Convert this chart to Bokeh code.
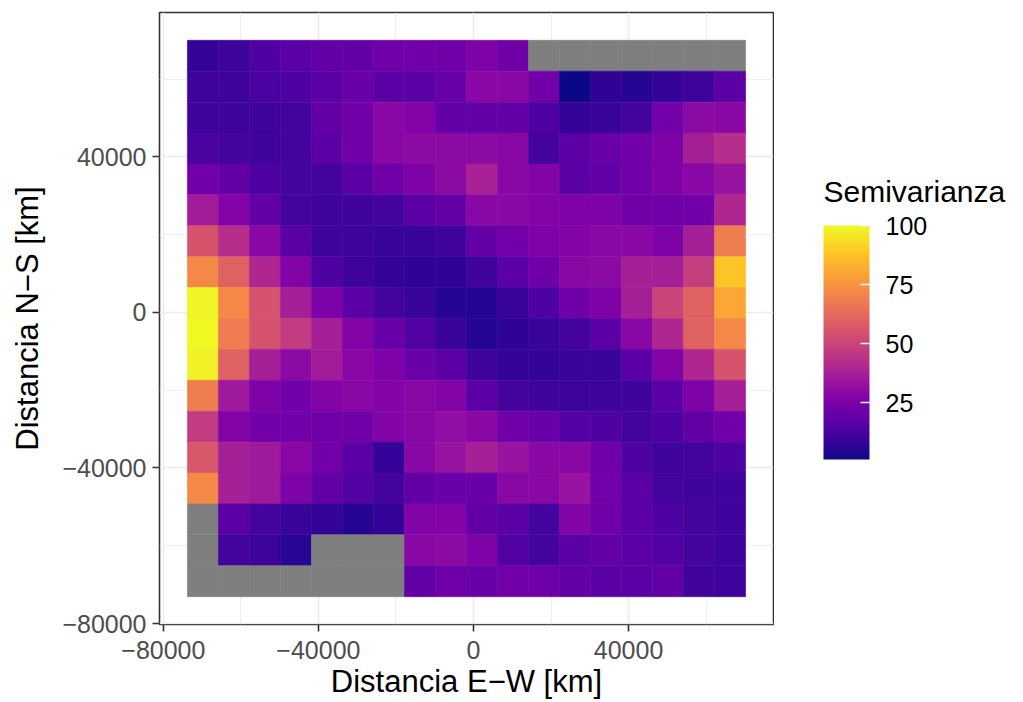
import numpy as np
from bokeh.plotting import figure
from bokeh.layouts import row
from bokeh.models import (ColumnDataSource, LinearColorMapper, ColorBar, FixedTicker,
                          Range1d, Label)
from bokeh.palettes import Plasma256
from bokeh.embed import file_html
from bokeh.resources import INLINE

nan = float("nan")

# ---- data -------------------------------------------------------------
# E-W lag centres (km), west to east
x_lags = [-69800, -61800, -53800, -45800, -37800, -29800, -21800, -13800, -5800,
          2200, 10200, 18200, 26200, 34200, 42200, 50200, 58200, 66200]
# N-S lag centres (km), north to south (one per row below)
y_lags = [66025, 58075, 50125, 42175, 34225, 26275, 18325, 10375, 2425,
          -5525, -13475, -21425, -29375, -37325, -45275, -53225, -61175, -69125]

# semivariance, one list per N-S lag (north -> south), west -> east
row_00 = [8, 10, 14, 17, 19, 19, 22, 23, 22, 26, 22, nan, nan, nan, nan, nan, nan, nan]
row_01 = [10, 10, 13, 14, 17, 21, 17, 17, 20, 29, 29, 23, 1, 7, 5, 8, 10, 17]
row_02 = [10, 10, 11, 12, 19, 23, 29, 27, 19, 19, 19, 14, 8, 9, 12, 23, 30, 29]
row_03 = [13, 12, 11, 12, 17, 23, 29, 30, 30, 30, 29, 12, 17, 21, 23, 26, 37, 42]
row_04 = [23, 19, 14, 12, 12, 17, 22, 26, 30, 38, 29, 27, 17, 19, 23, 26, 29, 33]
row_05 = [36, 27, 19, 12, 11, 11, 12, 17, 19, 29, 29, 27, 26, 26, 22, 22, 23, 40]
row_06 = [55, 42, 29, 17, 11, 10, 9, 9, 11, 19, 23, 26, 27, 29, 29, 26, 37, 69]
row_07 = [72, 60, 40, 27, 14, 10, 8, 7, 7, 11, 17, 22, 29, 30, 37, 37, 48, 88]
row_08 = [99, 72, 55, 37, 26, 17, 12, 9, 5, 5, 9, 14, 22, 26, 37, 50, 60, 80]
row_09 = [100, 68, 55, 47, 37, 27, 21, 15, 9, 5, 7, 9, 12, 17, 29, 40, 60, 72]
row_10 = [98, 60, 37, 30, 36, 29, 26, 21, 17, 10, 8, 8, 9, 9, 17, 27, 40, 55]
row_11 = [69, 35, 26, 23, 27, 29, 27, 29, 27, 17, 12, 11, 10, 10, 11, 17, 26, 37]
row_12 = [47, 27, 23, 23, 22, 22, 27, 29, 31, 29, 23, 21, 15, 14, 12, 14, 19, 23]
row_13 = [56, 37, 35, 29, 23, 17, 8, 29, 33, 37, 33, 29, 29, 22, 14, 11, 12, 14]
row_14 = [72, 37, 35, 26, 19, 15, 12, 19, 21, 21, 29, 29, 33, 23, 17, 12, 11, 11]
row_15 = [nan, 17, 12, 9, 8, 5, 8, 27, 27, 19, 17, 12, 27, 22, 17, 14, 12, 11]
row_16 = [nan, 12, 10, 6, nan, nan, nan, 29, 30, 26, 15, 12, 17, 19, 17, 15, 12, 10]
row_17 = [nan, nan, nan, nan, nan, nan, nan, 19, 22, 21, 23, 22, 19, 17, 17, 19, 11, 10]

rows = [row_00, row_01, row_02, row_03, row_04, row_05, row_06, row_07, row_08,
        row_09, row_10, row_11, row_12, row_13, row_14, row_15, row_16, row_17]

axis_ticks = [-80000, -40000, 0, 40000]
axis_minor = [-60000, -20000, 20000, 60000]
axis_tick_labels = ["\u221280000", "\u221240000", "0", "40000"]
legend_ticks = [25, 50, 75, 100]

x_title = "Distancia E\u2212W [km]"
y_title = "Distancia N\u2212S [km]"
legend_title = "Semivarianza"

# ---- layout / style ---------------------------------------------------
cell_w = 8000
cell_h = 7950
FONT = "Liberation Sans"
TOTAL_W, TOTAL_H = 1023, 702
MAIN_W = 774

xs, ys, vs = [], [], []
for yv, r in zip(y_lags, rows):
    for xv, v in zip(x_lags, r):
        xs.append(xv)
        ys.append(yv)
        vs.append(v)
vals = np.array(vs, dtype=float)
src = ColumnDataSource(data=dict(x=np.array(xs, dtype=float), y=np.array(ys, dtype=float), v=vals))

vmin = float(np.nanmin(vals))
vmax = float(np.nanmax(vals))
mapper = LinearColorMapper(palette=Plasma256, low=vmin, high=vmax, nan_color="#7F7F7F")

# ggplot-like 5% expansion
x0 = min(x_lags) - cell_w / 2
x1 = max(x_lags) + cell_w / 2
y0 = min(y_lags) - cell_h / 2
y1 = max(y_lags) + cell_h / 2
ex = 0.05 * (x1 - x0)
ey = 0.05 * (y1 - y0)

p = figure(width=MAIN_W, height=TOTAL_H,
           x_range=Range1d(x0 - ex, x1 + ex), y_range=Range1d(y0 - ey, y1 + ey),
           output_backend="svg", toolbar_location=None,
           min_border_left=159, min_border_right=1, min_border_top=12, min_border_bottom=78)
p.background_fill_color = "white"
p.border_fill_color = "white"
p.outline_line_color = "#333333"
p.outline_line_width = 1.6

p.rect(x="x", y="y", width=cell_w, height=cell_h, source=src,
       fill_color={"field": "v", "transform": mapper},
       line_color={"field": "v", "transform": mapper}, line_width=0.6)

tk = FixedTicker(ticks=axis_ticks, minor_ticks=axis_minor)
p.xaxis.ticker = tk
p.yaxis.ticker = tk
p.xgrid.ticker = tk
p.ygrid.ticker = tk
for g in (p.xgrid, p.ygrid):
    g.grid_line_color = "#EBEBEB"
    g.grid_line_width = 1.6
    g.minor_grid_line_color = "#EBEBEB"
    g.minor_grid_line_width = 0.8
    g.level = "underlay"

overrides = {t: l for t, l in zip(axis_ticks, axis_tick_labels)}
for ax in (p.xaxis, p.yaxis):
    ax.major_label_overrides = overrides
    ax.axis_line_color = None
    ax.major_tick_line_color = "#333333"
    ax.major_tick_line_width = 1.6
    ax.major_tick_out = 7
    ax.major_tick_in = 0
    ax.minor_tick_line_color = None
    ax.major_label_text_font = FONT
    ax.major_label_text_font_size = "25px"
    ax.major_label_text_color = "#4D4D4D"
    ax.major_label_standoff = 6
    ax.axis_label_text_font = FONT
    ax.axis_label_text_font_size = "31px"
    ax.axis_label_text_font_style = "normal"
    ax.axis_label_text_color = "black"

p.xaxis.axis_label = x_title
p.yaxis.axis_label = y_title
p.xaxis.major_label_standoff = 9
p.xaxis.major_label_text_line_height = 0.9
p.xaxis.axis_label_text_line_height = 0.9
p.xaxis.axis_label_standoff = 2
p.yaxis.axis_label_standoff = 14

# ---- legend panel (right of the plot) ---------------------------------
LEG_W = TOTAL_W - MAIN_W
leg = figure(width=LEG_W, height=TOTAL_H, x_range=Range1d(0, LEG_W), y_range=Range1d(0, TOTAL_H),
             output_backend="svg", toolbar_location=None,
             min_border_left=0, min_border_right=0, min_border_top=0, min_border_bottom=0)
leg.axis.visible = False
leg.grid.visible = False
leg.outline_line_color = None
leg.background_fill_color = "white"
leg.border_fill_color = "white"

cb = ColorBar(color_mapper=mapper, ticker=FixedTicker(ticks=legend_ticks),
              width=46, height=234, location=(49, 165), padding=0, margin=0,
              major_label_text_font=FONT, major_label_text_font_size="25px",
              major_label_text_color="black", label_standoff=16,
              major_tick_line_color="white", major_tick_line_width=1.5,
              major_tick_in=9, major_tick_out=0, minor_tick_line_color=None,
              bar_line_color=None, border_line_color=None, background_fill_alpha=0)
leg.add_layout(cb, "center")
leg.add_layout(Label(x=49, y=433, x_units="screen", y_units="screen",
                     text=legend_title, text_font=FONT, text_font_size="30px",
                     text_color="black", text_align="left", text_baseline="alphabetic"))

layout = row(p, leg, spacing=0)

with open("out.html", "w") as f:
    f.write(file_html(layout, INLINE))
